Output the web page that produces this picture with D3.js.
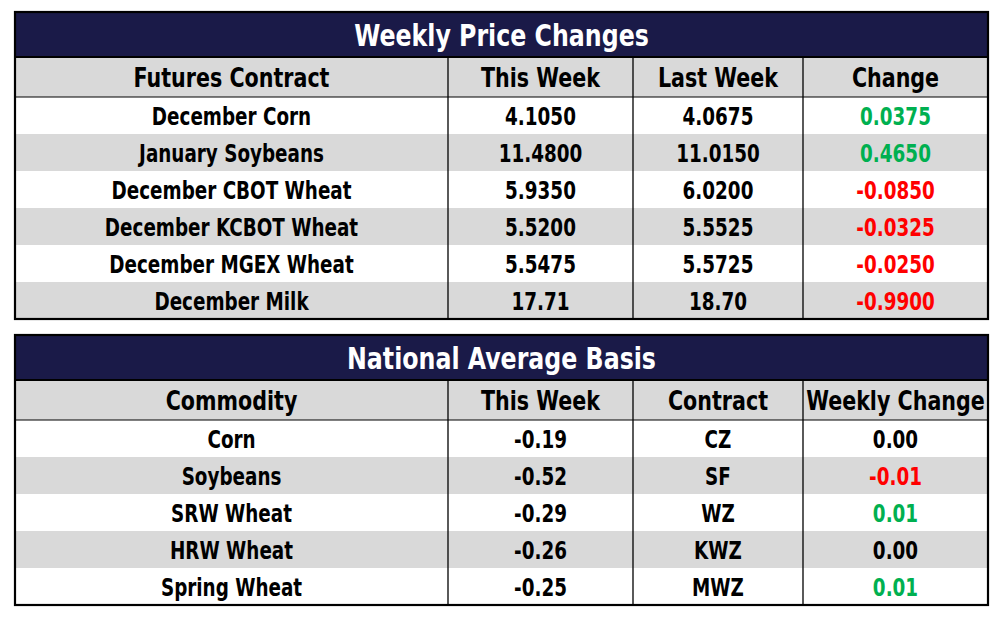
<!DOCTYPE html>
<html><head><meta charset="utf-8">
<script src="https://cdn.jsdelivr.net/npm/d3@7"></script>
<style>body{margin:0;background:#fff}svg{display:block}</style>
</head><body>
<svg id="c" width="1003" height="618"></svg>
<script>
const priceTitle = "Weekly Price Changes";
const priceHeaders = ["Futures Contract", "This Week", "Last Week", "Change"];
const priceContracts = ["December Corn","January Soybeans","December CBOT Wheat","December KCBOT Wheat","December MGEX Wheat","December Milk"];
const priceThisWeek = ["4.1050","11.4800","5.9350","5.5200","5.5475","17.71"];
const priceLastWeek = ["4.0675","11.0150","6.0200","5.5525","5.5725","18.70"];
const priceChange = [0.0375, 0.4650, -0.0850, -0.0325, -0.0250, -0.9900];

const basisTitle = "National Average Basis";
const basisHeaders = ["Commodity", "This Week", "Contract", "Weekly Change"];
const basisCommodities = ["Corn","Soybeans","SRW Wheat","HRW Wheat","Spring Wheat"];
const basisThisWeek = ["-0.19","-0.52","-0.29","-0.26","-0.25"];
const basisContracts = ["CZ","SF","WZ","KWZ","MWZ"];
const basisChange = [0.00, -0.01, 0.01, 0.00, 0.01];

const svg = d3.select("#c");
const FONT = "'DejaVu Sans Condensed','DejaVu Sans',sans-serif";
const SX = 0.85;
const colEdges = [15, 448, 633, 803, 988];
const x = d3.scaleOrdinal().domain([0,1,2,3]).range(colEdges.slice(0,4));
const colW = i => colEdges[i+1] - colEdges[i];
const navy = "#1a1a48", grey = "#d9d9d9", green = "#00b050", red = "#ff0000";

function changeColor(v){ return v > 0 ? green : v < 0 ? red : "#000"; }

function label(sel, cx, cy, size, fill){
  return sel.attr("transform", (d,i)=>`translate(${cx(d,i)},${cy(d,i)}) scale(${SX},1)`)
    .attr("text-anchor","middle").attr("dominant-baseline","central")
    .attr("font-family",FONT).attr("font-weight","bold").attr("font-size",size)
    .attr("fill",fill);
}

function drawTable(top, title, headers, rows, changeVals){
  const titleH = 45, headH = 40, rowH = 37;
  const g = svg.append("g");
  const yRow = d3.scaleBand().domain(d3.range(rows.length)).range([top+titleH+headH, top+titleH+headH+rowH*rows.length]);
  const bottom = top+titleH+headH+rowH*rows.length;
  g.append("rect").attr("x",15).attr("y",top).attr("width",973).attr("height",titleH).attr("fill",navy);
  label(g.append("text"), ()=> (15+988)/2, ()=> top+titleH/2+1, 31, "#fff").text(title);
  g.append("rect").attr("x",15).attr("y",top+titleH).attr("width",973).attr("height",headH).attr("fill",grey);
  label(g.selectAll("text.h").data(headers).join("text").attr("class","h"),
    (d,i)=>x(i)+colW(i)/2, ()=>top+titleH+headH/2+1, 27, "#000").text(d=>d);
  g.selectAll("rect.r").data(rows).join("rect").attr("class","r")
    .attr("x",15).attr("y",(d,i)=>yRow(i)).attr("width",973).attr("height",yRow.bandwidth())
    .attr("fill",(d,i)=>i%2? grey : "#fff");
  rows.forEach((r,ri)=>{
    label(g.selectAll(null).data(r).join("text"),
      (d,i)=>x(i)+colW(i)/2, ()=>yRow(ri)+yRow.bandwidth()/2+1, 24,
      (d,i)=> i===3 ? changeColor(changeVals[ri]) : "#000").text(d=>d);
  });
  g.append("line").attr("x1",15).attr("x2",988).attr("y1",top+titleH).attr("y2",top+titleH).attr("stroke","#000").attr("stroke-width",2);
  g.append("line").attr("x1",15).attr("x2",988).attr("y1",top+titleH+headH).attr("y2",top+titleH+headH).attr("stroke","#000").attr("stroke-width",1);
  g.selectAll("line.v").data([1,2,3]).join("line").attr("class","v")
    .attr("x1",i=>x(i)).attr("x2",i=>x(i)).attr("y1",top+titleH).attr("y2",bottom)
    .attr("stroke","#000").attr("stroke-width",1.3);
  g.append("rect").attr("x",15).attr("y",top).attr("width",973).attr("height",bottom-top)
    .attr("fill","none").attr("stroke","#000").attr("stroke-width",2.2);
}

const priceRows = priceContracts.map((c,i)=>[c, priceThisWeek[i], priceLastWeek[i], priceChange[i].toFixed(4)]);
drawTable(12, priceTitle, priceHeaders, priceRows, priceChange);
const basisRows = basisCommodities.map((c,i)=>[c, basisThisWeek[i], basisContracts[i], basisChange[i].toFixed(2)]);
drawTable(335, basisTitle, basisHeaders, basisRows, basisChange);
</script>
</body></html>
